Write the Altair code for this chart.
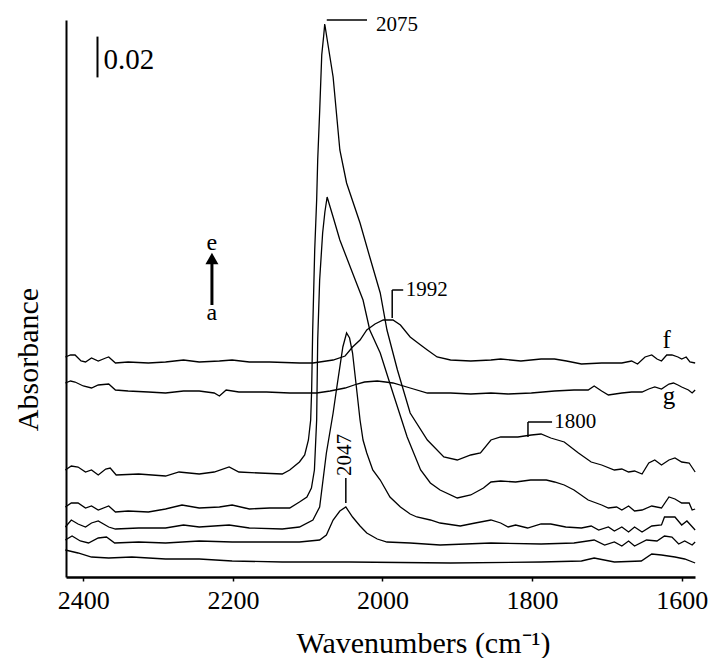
import altair as alt
import pandas as pd

FONT = "Liberation Serif"

# ---- spectra: wavenumber (cm-1) and absorbance (units of 0.001, stacked offsets) ----
a_wn = [2424, 2407, 2389, 2366, 2335, 2290, 2245, 2201, 2134, 2044, 1909, 1788, 1734, 1717, 1690, 1654, 1640, 1627, 1609, 1596, 1582]
a_ab = [13.5, 12, 10, 9.5, 10, 9, 9, 8, 7.5, 7.5, 7, 7.5, 8, 9.5, 7.5, 8, 11.5, 11, 10, 9, 7]

b_wn = [2424, 2415, 2404, 2393, 2380, 2369, 2358, 2326, 2290, 2245, 2201, 2151, 2111, 2084, 2075, 2066, 2057, 2049, 2040, 2030,
        2021, 2007, 1994, 1963, 1923, 1855, 1788, 1744, 1717, 1703, 1690, 1680, 1671, 1663, 1647, 1633, 1623, 1613, 1604, 1596,
        1586, 1582]
b_ab = [18.5, 20.5, 18, 17, 19.5, 20, 17, 17.5, 17, 18, 17.5, 17.5, 17.5, 18.5, 21, 28.5, 33, 35, 30, 25.5,
        22, 19, 17.5, 17, 16, 17, 16.5, 17, 18.5, 16, 17.5, 15.5, 18, 15.5, 18.5, 18, 20.5, 20, 16.5, 18,
        16, 17.5]

c_wn = [2424, 2416, 2407, 2397, 2389, 2380, 2366, 2357, 2326, 2290, 2266, 2245, 2205, 2178, 2134, 2111, 2093, 2084, 2075, 2066,
        2061, 2053, 2048, 2044, 2040, 2034, 2030, 2026, 2021, 2013, 2003, 1990, 1976, 1963, 1954, 1936, 1923, 1896, 1876, 1855,
        1842, 1832, 1822, 1806, 1788, 1775, 1755, 1734, 1721, 1711, 1698, 1690, 1680, 1671, 1663, 1653, 1640, 1627, 1623, 1609,
        1600, 1593, 1582]
c_ab = [25, 28.5, 26.5, 25, 27, 28, 25, 24, 24.5, 24.5, 26, 25, 26, 24.5, 24, 25, 28.5, 35, 62, 82,
        95, 115, 122, 119.5, 112, 92, 78.5, 68.5, 62, 53.5, 48.5, 40, 35, 31.5, 30, 28.5, 27, 25.5, 27, 28.5,
        27, 25, 26, 24.5, 26.5, 26.5, 25, 24.5, 25.5, 23.5, 25, 23, 25, 22.5, 25, 22.5, 25.5, 26, 30, 30,
        26, 28, 23.5]

d_wn = [2424, 2416, 2407, 2397, 2389, 2380, 2366, 2357, 2340, 2313, 2290, 2268, 2245, 2218, 2201, 2178, 2151, 2124, 2111, 2101,
        2095, 2091, 2088, 2086.6, 2084, 2080, 2077, 2074, 2070, 2066, 2057, 2040, 2026, 2017, 2003, 1986, 1967, 1949, 1936, 1923,
        1900, 1882, 1865, 1855, 1842, 1822, 1802, 1781, 1770, 1757, 1744, 1725, 1707, 1698, 1687, 1680, 1671, 1663, 1653, 1640,
        1627, 1617, 1609, 1600, 1590, 1586, 1582]
d_ab = [35, 37, 37, 34.5, 35.5, 33.5, 35.5, 32.5, 33, 32.5, 34, 36, 34.5, 35, 36, 34, 34.5, 34.5, 37.5, 40,
        44.5, 53.5, 78.5, 118.5, 148.5, 172, 182.5, 190, 185, 180, 168.5, 152, 138.5, 123.5, 112, 92, 70, 53.5, 47, 43.5,
        39.5, 41, 44.5, 47.5, 48, 47.5, 48.5, 48.5, 47.5, 46, 43.5, 38.5, 36, 34.5, 35, 33.5, 35.5, 33, 33.5, 35.5,
        34.5, 40, 39, 37, 37, 33.5, 34]

e_wn = [2424, 2416, 2407, 2397, 2389, 2380, 2370, 2364, 2356, 2326, 2290, 2272, 2245, 2225, 2205, 2192, 2165, 2134, 2124, 2111,
        2104, 2099, 2096, 2094.7, 2093.3, 2090.6, 2088, 2086.6, 2083.9, 2081.2, 2078.5, 2077.2, 2073.2, 2066, 2057, 2048, 2030, 2017, 2003, 1994,
        1980, 1963, 1940, 1918, 1900, 1882, 1869, 1855, 1842, 1819, 1801, 1788, 1775, 1757, 1738, 1721, 1707, 1690, 1680, 1671,
        1663, 1653, 1644, 1636, 1627, 1617, 1609, 1600, 1590, 1582]
e_ab = [53.5, 55.5, 55, 52.5, 53.5, 51, 54, 54.5, 51, 51.5, 50.5, 52.5, 51.5, 52.5, 55, 52.5, 52, 51.5, 53.5, 57.5,
        61, 68.5, 78.5, 93.5, 123.5, 163.5, 188.5, 208.5, 233.5, 261, 271, 276.5, 267, 250, 213.5, 197, 177, 160, 142, 123.5,
        103.5, 82, 68.5, 60, 58.5, 61, 62, 68.5, 70, 70, 71, 71.5, 69.5, 67.5, 62, 57.5, 56, 53.5, 54, 52.5,
        53, 51.5, 57, 58.5, 56, 58.5, 59.5, 57.5, 57, 52.5]

f_wn = [2424, 2417, 2411, 2403, 2397, 2389, 2380, 2370, 2366, 2357, 2340, 2313, 2290, 2266, 2245, 2218, 2201, 2178, 2151, 2111,
        2093, 2066, 2050, 2040, 2030, 2021, 2010, 1999, 1986, 1976, 1963, 1949, 1940, 1927, 1909, 1882, 1855, 1842, 1815, 1788,
        1770, 1754, 1734, 1707, 1680, 1667, 1659, 1649, 1640, 1633, 1627, 1620, 1613, 1605, 1600, 1594, 1589, 1582]
f_ab = [110, 111, 111, 108, 107.5, 109.5, 108, 109.5, 110, 107, 107.5, 107, 107.5, 108.5, 107.5, 108, 108.5, 107.5, 107.5, 107,
        107, 108.5, 110.5, 115, 118.5, 123.5, 126.5, 128.5, 128.5, 126, 120, 116, 113.5, 110, 108.5, 108, 108.5, 109, 108, 109,
        109, 108, 106.5, 107, 107, 108, 106.5, 110, 111, 109, 108, 111, 111, 110, 109, 110, 107.5, 107]

g_wn = [2424, 2417, 2411, 2400, 2389, 2380, 2366, 2357, 2340, 2313, 2290, 2266, 2245, 2225, 2218, 2209, 2192, 2155, 2124, 2088,
        2070, 2050, 2034, 2024, 2007, 1996, 1986, 1963, 1940, 1909, 1882, 1855, 1832, 1801, 1770, 1744, 1725, 1717, 1707, 1698,
        1680, 1667, 1653, 1644, 1636, 1627, 1617, 1611, 1605, 1600, 1591, 1586, 1582]
g_ab = [97, 98, 97.5, 95.5, 94.5, 96, 96.5, 93.5, 93, 92.5, 92, 93, 93, 92, 90.5, 93.5, 92.5, 92.5, 92, 92,
        93, 94.5, 96.5, 97.5, 98, 97.5, 97, 94.5, 92, 92, 91.5, 92, 91.5, 92, 93, 93.5, 93.5, 95.5, 93, 91,
        92, 92.5, 92.5, 94, 95, 94, 96.5, 97, 96, 95, 93.5, 92, 93.5]

# ---- annotations ----
peak_labels = ["2075", "1992", "1800"]
peak_label_wn = [2008.6, 1969, 1770.5]
peak_label_ab = [276, 143.75, 77.5]

rule_wn = [2074.5, 1987, 1987, 1805.5, 1805.5, 2049, 2381, 2228]
rule_wn2 = [2020.7, 1987, 1972.3, 1805.5, 1773.3, 2049, 2381, 2228]
rule_ab = [278.5, 129.5, 143.5, 70, 77.5, 37, 249.8, 136]
rule_ab2 = [278.5, 143.5, 143.5, 77.5, 77.5, 49.5, 270.2, 157]
rule_w = [1.5, 1.5, 1.5, 1.5, 1.5, 1.5, 2, 3]

series = {"a": (a_wn, a_ab), "b": (b_wn, b_ab), "c": (c_wn, c_ab), "d": (d_wn, d_ab),
          "e": (e_wn, e_ab), "f": (f_wn, f_ab), "g": (g_wn, g_ab)}
rows = []
for name, (w, v) in series.items():
    for x, y in zip(w, v):
        rows.append({"wn": x, "A": y, "s": name})
df = pd.DataFrame(rows)

xscale = alt.Scale(domain=[1582.2, 2423.1], reverse=True, nice=False, zero=False)
yscale = alt.Scale(domain=[0, 278.5], nice=False, zero=False)

X = alt.X("wn:Q", scale=xscale, axis=alt.Axis(
    values=[2400, 2200, 2000, 1800, 1600], format="d", title="Wavenumbers (cm⁻¹)",
    grid=False, domainColor="black", domainWidth=2.5, tickColor="black", tickSize=4, tickWidth=1.5,
    labelFont=FONT, labelFontSize=26, labelColor="black", labelPadding=6, labelFlush=False,
    labelOverlap=False, titleFont=FONT, titleFontSize=30, titleFontWeight="normal", titleColor="black",
    titleX=357, titleY=75, titleAlign="center", titleBaseline="alphabetic"))
Y = alt.Y("A:Q", scale=yscale, axis=alt.Axis(
    title="Absorbance", ticks=False, labels=False, grid=False, domainColor="black", domainWidth=2,
    titleFont=FONT, titleFontSize=30, titleFontWeight="normal", titleColor="black",
    titleAngle=270, titleX=-29, titleY=339, titleAlign="center", titleBaseline="alphabetic"))

lines = alt.Chart(df).mark_line(color="black", strokeWidth=1.3).encode(
    x=X, y=Y, detail="s:N", order="wn:Q")

rules_df = pd.DataFrame({"wn": rule_wn, "wn2": rule_wn2, "A": rule_ab, "A2": rule_ab2, "w": rule_w})
rules = alt.Chart(rules_df).mark_rule(color="black").encode(
    x=X, x2="wn2:Q", y=Y, y2="A2:Q",
    strokeWidth=alt.StrokeWidth("w:Q", scale=None))

pk_df = pd.DataFrame({"wn": peak_label_wn, "A": peak_label_ab, "t": peak_labels})
pk = alt.Chart(pk_df).mark_text(font=FONT, fontSize=21, align="left", baseline="middle", color="black").encode(
    x=X, y=Y, text="t:N")

rot_df = pd.DataFrame({"wn": [2049.5], "A": [61], "t": ["2047"]})
rot = alt.Chart(rot_df).mark_text(font=FONT, fontSize=21, align="center", baseline="middle", angle=270,
                                  color="black").encode(x=X, y=Y, text="t:N")

scale_df = pd.DataFrame({"wn": [2373], "A": [258.5], "t": ["0.02"]})
scale_txt = alt.Chart(scale_df).mark_text(font=FONT, fontSize=29, align="left", baseline="middle",
                                          color="black").encode(x=X, y=Y, text="t:N")

ea_df = pd.DataFrame({"wn": [2228, 2228], "A": [167, 132], "t": ["e", "a"]})
ea = alt.Chart(ea_df).mark_text(font=FONT, fontSize=24, align="center", baseline="middle",
                                color="black").encode(x=X, y=Y, text="t:N")

fg_df = pd.DataFrame({"wn": [1620, 1617], "A": [114.5, 86.5], "t": ["f", "g"]})
fg = alt.Chart(fg_df).mark_text(font=FONT, fontSize=25, align="center", baseline="alphabetic",
                                color="black").encode(x=X, y=Y, text="t:N")

head_df = pd.DataFrame({"wn": [2228], "A": [159.25]})
head = alt.Chart(head_df).mark_point(shape="triangle-up", filled=True, size=169, color="black",
                                     opacity=1).encode(x=X, y=Y)

chart = alt.layer(lines, rules, pk, rot, scale_txt, ea, fg, head).properties(
    width=629, height=557,
    autosize=alt.AutoSizeParams(type="none"),
    padding={"left": 66, "top": 20, "right": 17, "bottom": 81},
    background="white",
).configure_view(stroke=None)

chart.save("out.html", embed_options={"renderer": "svg", "actions": False})
